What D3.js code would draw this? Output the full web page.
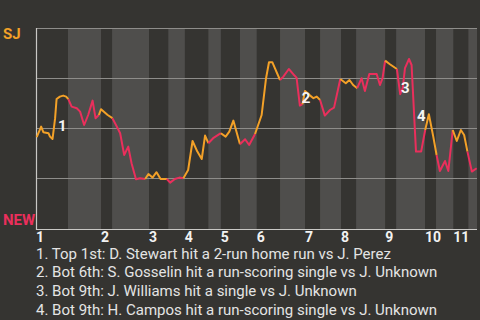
<!DOCTYPE html>
<html>
<head>
<meta charset="utf-8">
<script src="https://cdn.jsdelivr.net/npm/d3@7"></script>
<style>
  html, body { margin: 0; padding: 0; background: #353431; }
  svg { display: block; }
</style>
</head>
<body>
<svg id="wpSvg" width="480" height="320"></svg>
<script>
// Win probability chart, SJ (away, top half) vs NEW (home, bottom half)
// x is measured in "plays" from the first pitch, y is SJ win %

const innings = ["1", "2", "3", "4", "5", "6", "7", "8", "9", "10", "11"];

// where each half inning starts on the play axis (top 1st, bot 1st, top 2nd ...)
const halfStarts = [0, 8.7, 17.7, 20.7, 30.75, 36.0, 40.5, 46.9, 50.3, 55.5, 60.05,
  66.4, 73.2, 77.3, 83.0, 87.1, 95.0, 98.0, 105.85, 108.85, 113.55, 117.65];
const totalPlays = 120;

// SJ win % after each play, grouped by half inning
const wpByHalf = [
  [[0.2, 45.4], [1.4, 50.7], [2.0, 47.9], [3.4, 47.4], [3.8, 45.7], [4.5, 44.5], [5.2, 54.9], [5.6, 64.5], [6.5, 65.7], [7.4, 66.2], [8.2, 65.7], [8.8, 64.4]],
  [[9.7, 60.7], [11.1, 59.9], [12.0, 58.2], [13.1, 51.5], [14.2, 56.5], [15.4, 63.7], [16.2, 54.9], [17.1, 56.5]],
  [[17.7, 59.4], [19.5, 56.5], [20.8, 54.9]],
  [[22.0, 50.7], [22.9, 47.4], [24.0, 36.5], [25.1, 40.7], [26.0, 32.4], [27.2, 24.4], [28.3, 24.9], [29.7, 24.5]],
  [[30.6, 27.0], [31.7, 25.2], [32.8, 27.9], [33.9, 24.5], [35.6, 24.5]],
  [[36.5, 22.7], [37.8, 24.5], [39.0, 25.2], [40.1, 24.9]],
  [[41.4, 29.0], [42.6, 43.5], [43.9, 38.2], [45.1, 34.5], [46.0, 46.2], [46.9, 42.4]],
  [[48.2, 44.9], [50.3, 47.4]],
  [[51.6, 45.7], [52.6, 48.2], [53.7, 53.7], [55.5, 41.9]],
  [[56.9, 44.4], [58.0, 41.5], [59.6, 47.0]],
  [[61.4, 56.5], [62.6, 74.9], [63.4, 82.9], [64.3, 82.9], [65.0, 79.9], [66.4, 74.0]],
  [[67.3, 75.7], [68.8, 79.5], [70.0, 76.9], [70.9, 75.2], [71.8, 61.2], [72.5, 61.9]],
  [[73.2, 68.5], [74.6, 66.2], [75.5, 64.9], [76.4, 65.7], [77.3, 64.0]],
  [[78.6, 56.2], [80.0, 59.0], [81.1, 60.2], [82.8, 74.5]],
  [[84.3, 72.4], [85.3, 74.0], [86.3, 71.5], [87.4, 69.9]],
  [[88.6, 74.9], [89.5, 68.5], [90.7, 77.0], [92.7, 77.0], [93.6, 71.5], [94.3, 74.9], [95.0, 83.7]],
  [[96.3, 81.9], [98.2, 79.5]],
  [[99.1, 66.9], [99.8, 69.9], [100.4, 79.9], [101.5, 84.5], [102.2, 81.5], [103.4, 38.2], [104.8, 38.2], [105.9, 49.0]],
  [[106.9, 56.9], [108.1, 45.7], [109.0, 36.5]],
  [[109.9, 28.5], [111.3, 33.5], [112.2, 28.5], [113.4, 49.0]],
  [[114.5, 43.5], [115.6, 49.0], [116.5, 46.5], [117.4, 38.2]],
  [[118.6, 28.2], [119.9, 29.9]]
];

// scoring plays: label anchor on the chart + description
const scoringMarks = [[6.0, 48.5], [72.3, 62.4], [99.3, 67.5], [103.7, 53.5]];
const scoringNotes = [
  "Top 1st: D. Stewart hit a 2-run home run vs J. Perez",
  "Bot 6th: S. Gosselin hit a run-scoring single vs J. Unknown",
  "Bot 9th: J. Williams hit a single vs J. Unknown",
  "Bot 9th: H. Campos hit a run-scoring single vs J. Unknown"
];

const gridPcts = [25, 50, 75, 100];

const awayColor = "#f3a128";
const homeColor = "#ea2f5c";

const svg = d3.select("#wpSvg");
const plot = { left: 36, right: 477, top: 28, bottom: 228, axisY: 230 };

const x = d3.scaleLinear().domain([0, totalPlays]).range([plot.left, plot.right]);
const y = d3.scaleLinear().domain([0, 100]).range([plot.bottom, plot.top]);

// half inning bands, bottom halves are the lighter ones
const bands = halfStarts.map((s, i) => ({ start: s, end: i + 1 < halfStarts.length ? halfStarts[i + 1] : totalPlays, bottom: i % 2 === 1 }));
svg.append("g")
  .selectAll("rect")
  .data(bands.filter(b => b.bottom))
  .join("rect")
  .attr("x", d => x(d.start))
  .attr("width", d => x(d.end) - x(d.start))
  .attr("y", plot.top)
  .attr("height", plot.axisY - plot.top)
  .attr("fill", "#4f4e4c");

// horizontal grid lines
svg.append("g")
  .selectAll("line")
  .data(gridPcts)
  .join("line")
  .attr("x1", plot.left)
  .attr("x2", plot.right)
  .attr("y1", d => Math.round(y(d)) + 0.5)
  .attr("y2", d => Math.round(y(d)) + 0.5)
  .attr("stroke", "#8e8d8a")
  .attr("stroke-width", 1);

// axis lines
svg.append("path")
  .attr("d", `M${plot.left + 0.5},${plot.top}V${plot.axisY - 0.5}H${plot.right}`)
  .attr("fill", "none")
  .attr("stroke", "#c9c8c5")
  .attr("stroke-width", 1.2);

// the line, each half inning coloured by the batting team
const line = d3.line().x(d => x(d[0])).y(d => y(d[1]));
let prev = null;
wpByHalf.forEach((pts, i) => {
  const seg = prev ? [prev].concat(pts) : pts;
  svg.append("path")
    .attr("d", line(seg))
    .attr("fill", "none")
    .attr("stroke", i % 2 === 0 ? awayColor : homeColor)
    .attr("stroke-width", 2)
    .attr("stroke-linejoin", "round");
  prev = pts[pts.length - 1];
});

// team labels
svg.append("text")
  .attr("x", 3).attr("y", y(100) + 11)
  .attr("fill", awayColor)
  .style("font", "bold 15px Roboto")
  .text("SJ");
svg.append("text")
  .attr("x", 3).attr("y", y(0) - 3)
  .attr("fill", homeColor)
  .style("font", "bold 15px Roboto")
  .text("NEW");

// inning numbers at the start of each top half
svg.append("g")
  .selectAll("text")
  .data(innings)
  .join("text")
  .attr("x", (d, i) => x(halfStarts[i * 2]))
  .attr("y", 242)
  .attr("fill", "#f2f2f2")
  .style("font", "bold 14px Roboto")
  .text(d => d);

// scoring play markers
svg.append("g")
  .selectAll("text")
  .data(scoringMarks)
  .join("text")
  .attr("x", d => x(d[0]))
  .attr("y", d => y(d[1]))
  .attr("fill", "#f4f4f4")
  .style("font", "bold 15px Roboto")
  .text((d, i) => i + 1);

// notes underneath
svg.append("g")
  .selectAll("text")
  .data(scoringNotes)
  .join("text")
  .attr("x", 36)
  .attr("y", (d, i) => 258.5 + i * 18.7)
  .attr("fill", "#e4e4e4")
  .style("font", "15px Roboto")
  .text((d, i) => `${i + 1}. ${d}`);
</script>
</body>
</html>
